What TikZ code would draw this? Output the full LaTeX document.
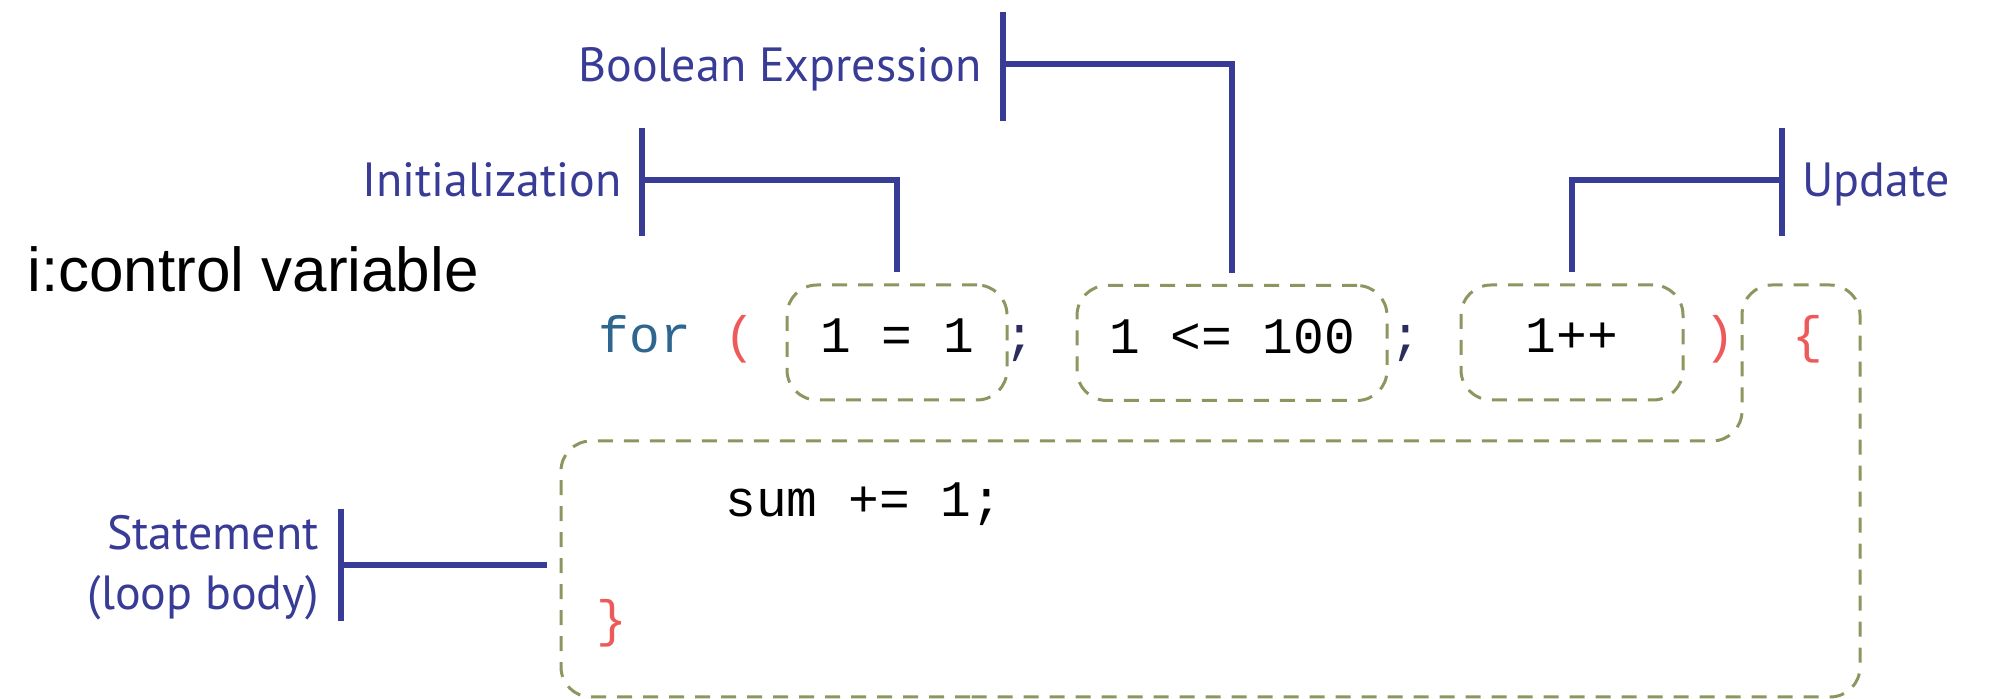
\documentclass[tikz,border=0pt]{standalone}
\usepackage{fontspec}
\setmainfont{Liberation Sans}
\newfontfamily\labelfont{PT Sans}
\newfontfamily\codefont{Liberation Mono}
\definecolor{navy}{HTML}{383C96}
\definecolor{olive}{HTML}{8A9860}
\definecolor{kw}{HTML}{2F6690}
\definecolor{punct}{HTML}{EE5A5A}
\definecolor{semi}{HTML}{2C2C5E}

\begin{document}
\begin{tikzpicture}[x=0.5pt,y=-0.5pt,
  lbl/.style={font=\labelfont\fontsize{24}{30}\selectfont, text=navy, inner sep=0pt},
  bracket/.style={draw=navy, line width=3pt},
  code/.style={font=\codefont\fontsize{25.6}{30}\selectfont, inner sep=0pt},
  dashline/.style={draw=olive, line width=1.5pt, dash pattern=on 7.5pt off 5.5pt, rounded corners=15pt},
  part/.style={code, dashline, minimum height=57.5pt, text height=18pt, text depth=7.5pt}]
\useasboundingbox (0,0) rectangle (1998,699);

% header of the for loop: the three parts in dashed boxes
\node[part, minimum width=110pt] (init) at (897,342.5) {1 = 1};
\node[part, minimum width=155pt] (cond) at (1232,343) {1 <= 100};
\node[part, minimum width=111pt] (upd)  at (1572,342.5) {1++};

\node[code, text=kw, anchor=base]    (kwfor) at (645,353)  {for};
\node[code, text=punct, anchor=base] (lp)    at (740,353)  {(};
\node[code, text=semi, anchor=base]  (s1)    at (1020,353) {;};
\node[code, text=semi, anchor=base]  (s2)    at (1406,353) {;};
\node[code, text=punct, anchor=base] (rp)    at (1720,353) {)};
\node[code, text=punct, anchor=base] (lb)    at (1808,353) {\{};

% loop body
\node[code, anchor=base west]        (stmt)  at (725,517)  {sum += 1;};
\node[code, text=punct, anchor=base] (rb)    at (612,637)  {\}};

\coordinate (b1) at (1000,697);
\coordinate (b2) at (561,697);
\coordinate (b3) at (561,441);
\coordinate (b4) at (1742,441);
\coordinate (b5) at (1742,285);
\coordinate (b6) at (1860,285);
\coordinate (b7) at (1860,697);
\draw[dashline] (b1) -- (b2) -- (b3) -- (b4) -- (b5) -- (b6) -- (b7) -- cycle;
\coordinate (bodyleft) at (561,565);

% labels
\node[anchor=base west, inner sep=0pt, font=\fontsize{31}{36}\selectfont] (ctl) at (27,292) {i:control variable};
\node[lbl, anchor=base east] (initlbl) at (622,197) {Initialization};
\node[lbl, anchor=base east] (boollbl) at (982,82)  {Boolean Expression};
\node[lbl, anchor=base west] (updlbl)  at (1802,197) {Update};
\node[lbl, anchor=base east] (stlbl)   at (319,550) {Statement};
\node[lbl, anchor=base east] (stlblb)  at (319,610) {(loop body)};

% brackets joining labels to parts
\coordinate (it) at (642,128); \coordinate (ib) at (642,236); \coordinate (ij) at (642,180);
\coordinate (bt) at (1003,12); \coordinate (bb) at (1003,121); \coordinate (bj) at (1003,64);
\coordinate (ut) at (1782,128); \coordinate (ub) at (1782,236); \coordinate (uj) at (1782,180);
\coordinate (st) at (341,509); \coordinate (sb) at (341,621); \coordinate (sj) at (341,565);

\draw[bracket] (it) -- (ib);
\draw[bracket] (ij) -| ([yshift=5.5pt]init.north);
\draw[bracket] (bt) -- (bb);
\draw[bracket] (bj) -| ([yshift=5.5pt]cond.north);
\draw[bracket] (ut) -- (ub);
\draw[bracket] (uj) -| ([yshift=5.5pt]upd.north);
\draw[bracket] (st) -- (sb);
\draw[bracket, shorten >=7pt] (sj) -- (bodyleft);
\end{tikzpicture}
\end{document}
